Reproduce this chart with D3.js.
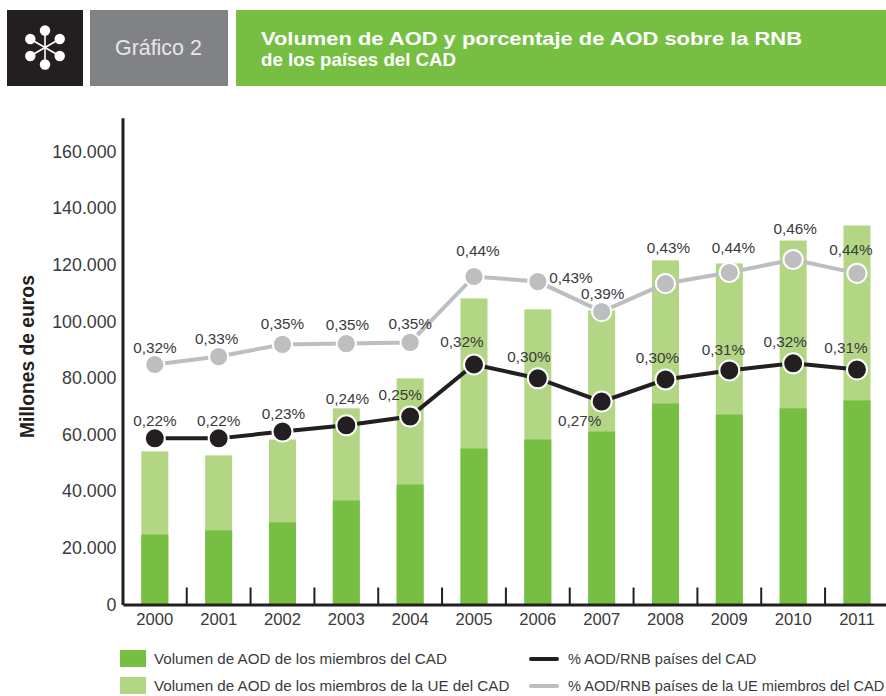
<!DOCTYPE html>
<html><head><meta charset="utf-8">
<style>
html,body{margin:0;padding:0;background:#fff;overflow:hidden}
svg{display:block;font-family:"Liberation Sans",Arial,sans-serif}
</style>
<script src="https://cdn.jsdelivr.net/npm/d3@7"></script>
</head><body><svg id="c" width="886" height="696"></svg>
<script>
const years = ["2000","2001","2002","2003","2004","2005","2006","2007","2008","2009","2010","2011"];
const aodCad = [24700,26150,29000,36750,42400,55100,58300,61100,71000,67100,69300,72100];
const aodUeTop = [54100,52700,58300,69300,79900,108150,104300,103900,121600,120500,128600,133900];
const lineCad = [58700,58700,61100,63300,66400,84800,79900,71700,79500,82700,85200,83000];
const lineUe = [84800,87600,91900,92200,92600,115900,114100,103500,113400,117300,121900,117000];
const labelsCad = ["0,22%","0,22%","0,23%","0,24%","0,25%","0,32%","0,30%","0,27%","0,30%","0,31%","0,32%","0,31%"];
const labelsUe = ["0,32%","0,33%","0,35%","0,35%","0,35%","0,44%","0,43%","0,39%","0,43%","0,44%","0,46%","0,44%"];
const yTicks = [0,20000,40000,60000,80000,100000,120000,140000,160000];
const legendBars = ["Volumen de AOD de los miembros del CAD","Volumen de AOD de los miembros de la UE del CAD"];
const legendLines = ["% AOD/RNB países del CAD","% AOD/RNB países de la UE miembros del CAD"];
const titleLines = ["Volumen de AOD y porcentaje de AOD sobre la RNB","de los países del CAD"];

// layout-only label placement (dx, dy from the marker)
const nudgeCad = [[0,-12],[0,-12],[1,-13],[1,-21],[-10,-17],[-12,-17],[-9,-16],[-22,24],[-8,-16],[-6,-15],[-8,-16],[-11,-17]];
const nudgeUe = [[0,-11],[-2,-13],[0,-15],[1,-14],[0,-13],[4,-20],[33,1],[1,-13],[3,-31],[4,-20],[2,-25],[-6,-18]];

const GREEN="#76bf43", LIGHT="#b3d685", INK="#231f20", GREY="#bcbec0", TXT="#3a3a3c";
const svg=d3.select("#c");

// header
svg.append("rect").attr("x",7).attr("y",10).attr("width",76).attr("height",76).attr("fill",INK);
svg.append("rect").attr("x",90).attr("y",10).attr("width",138).attr("height",76).attr("fill","#808285");
svg.append("rect").attr("x",236).attr("y",10).attr("width",650).attr("height",76).attr("fill",GREEN);
const angles=[0,60,120,180,240,300];
const icon=svg.append("g").attr("transform","translate(45,47.5)");
icon.selectAll("line").data(angles).join("line")
  .attr("x2",d=>17*Math.sin(d*Math.PI/180)).attr("y2",d=>-17*Math.cos(d*Math.PI/180))
  .attr("stroke","#fff").attr("stroke-width",1.6);
icon.selectAll("circle").data(angles).join("circle")
  .attr("cx",d=>17*Math.sin(d*Math.PI/180)).attr("cy",d=>-17*Math.cos(d*Math.PI/180))
  .attr("r",5.2).attr("fill","#fff");
svg.append("text").attr("x",115).attr("y",55).attr("font-size",21.4).attr("fill","#e6e7e8").text("Gráfico 2");
svg.selectAll("text.t").data(titleLines).join("text").attr("class","t")
  .attr("x",261).attr("y",(d,i)=>45+i*21).attr("font-size",19).attr("font-weight",700).attr("fill","#fff")
  .attr("textLength",(d,i)=>i?195:541).attr("lengthAdjust","spacingAndGlyphs").text(d=>d);

// scales
const x=d3.scaleBand().domain(years).range([122.9,888.9]);
const cx=d=>x(d)+x.bandwidth()/2;
const y=d3.scaleLinear().domain([0,172000]).range([604.5,117.7]);
const barW=27;

// bars
const row=(s,col)=>svg.append("g").selectAll("rect").data(years).join("rect")
  .attr("x",d=>cx(d)-barW/2).attr("width",barW)
  .attr("y",(d,i)=>y(s[i])).attr("height",(d,i)=>y(0)-y(s[i])).attr("fill",col);
row(aodUeTop,LIGHT); row(aodCad,GREEN);

// axes
const loc=d3.formatLocale({decimal:",",thousands:".",grouping:[3],currency:["",""]});
const ya=svg.append("g").attr("transform","translate(122.5,0)")
  .call(d3.axisLeft(y).tickValues(yTicks).tickSize(0).tickPadding(6).tickFormat(loc.format(",d")));
ya.select(".domain").attr("stroke",INK).attr("stroke-width",3);
ya.selectAll("text").attr("font-size",17.8).attr("font-family","inherit").attr("fill",TXT);
const xa=svg.append("g").attr("transform","translate(0,604.5)")
  .call(d3.axisBottom(x).tickSize(0).tickPadding(9));
xa.select(".domain").attr("stroke",INK).attr("stroke-width",3);
xa.selectAll("text").attr("font-size",16.6).attr("font-family","inherit").attr("fill",TXT);
svg.append("g").selectAll("line").data(years.slice(0,-1)).join("line")
  .attr("x1",d=>x(d)+x.step()).attr("x2",d=>x(d)+x.step())
  .attr("y1",y(0)).attr("y2",y(0)-17).attr("stroke",INK).attr("stroke-width",2);
svg.append("text").attr("transform","translate(34,438) rotate(-90)").attr("font-size",19.3)
  .attr("font-weight",700).attr("fill",INK).text("Millones de euros");

// lines
const series=(vals,col,r,labs,nudge)=>{
  const g=svg.append("g");
  g.append("path").datum(vals).attr("fill","none").attr("stroke",col).attr("stroke-width",4)
    .attr("d",d3.line().x((d,i)=>cx(years[i])).y(d=>y(d)));
  g.selectAll("circle").data(vals).join("circle")
    .attr("cx",(d,i)=>cx(years[i])).attr("cy",d=>y(d)).attr("r",r)
    .attr("fill",col).attr("stroke","#fff").attr("stroke-width",2);
  return ()=>g.selectAll("text").data(labs).join("text")
    .attr("x",(d,i)=>cx(years[i])+nudge[i][0]).attr("y",(d,i)=>y(vals[i])+nudge[i][1])
    .attr("text-anchor","middle").attr("font-size",15.3).attr("fill",TXT).text(d=>d);
};
const a=series(lineUe,GREY,9.6,labelsUe,nudgeUe);
const b=series(lineCad,INK,10,labelsCad,nudgeCad);
a(); b();

// legend
const lg=svg.append("g");
lg.selectAll("rect").data(legendBars).join("rect")
  .attr("x",120).attr("y",(d,i)=>650+i*27).attr("width",26).attr("height",17)
  .attr("fill",(d,i)=>i?LIGHT:GREEN);
lg.selectAll("text.b").data(legendBars).join("text").attr("class","b")
  .attr("x",154).attr("y",(d,i)=>664+i*27).attr("font-size",15.2).attr("fill",TXT).text(d=>d);
lg.selectAll("line").data(legendLines).join("line")
  .attr("x1",531).attr("x2",557).attr("y1",(d,i)=>659+i*27).attr("y2",(d,i)=>659+i*27)
  .attr("stroke",(d,i)=>i?GREY:INK).attr("stroke-width",4).attr("stroke-linecap","round");
lg.selectAll("text.l").data(legendLines).join("text").attr("class","l")
  .attr("x",568).attr("y",(d,i)=>664+i*27).attr("font-size",14.6).attr("fill",TXT).text(d=>d);
</script></body></html>
